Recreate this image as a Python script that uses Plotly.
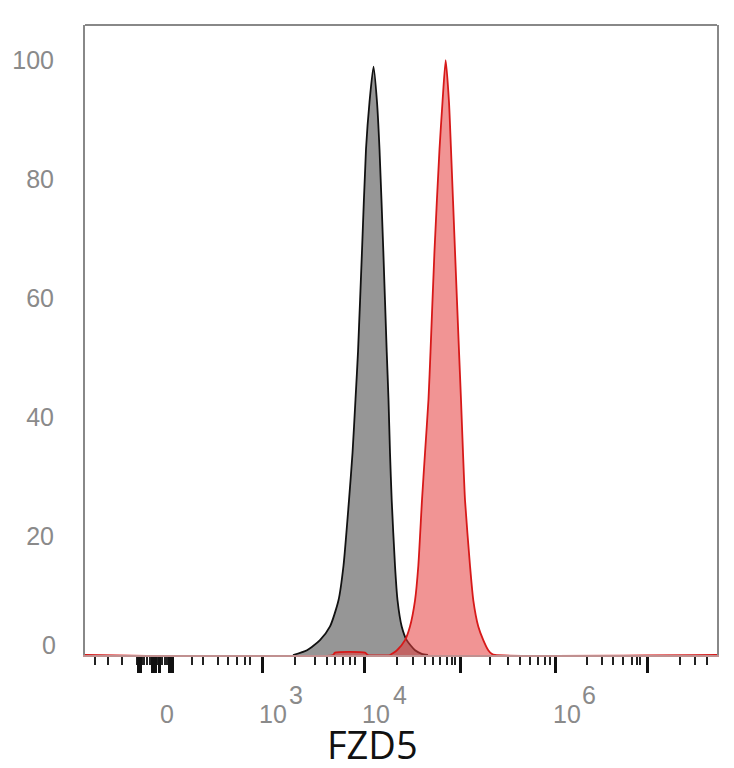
import plotly.graph_objects as go

# x is in display channels (0-1000 across the plot), y is % of max
GRAY_X = [329.1, 351.3, 371.8, 387.7, 401.1, 409.0, 417.7, 423.3, 428.0, 432.0, 438.3, 444.6, 450.2, 456.5,
          462.0, 466.0, 472.0, 477.4, 480.2, 482.6, 485.3, 490.5, 494.5, 501.1, 509.0, 522.2, 532.8, 542.7]
GRAY_Y = [0, 0.8, 2.5, 4.8, 9.2, 15.0, 26.0, 34.0, 43.0, 51.0, 68.0, 85.0, 93.0, 98.9,
          93.0, 85.0, 68.0, 51.0, 43.0, 34.0, 26.0, 15.0, 9.2, 4.8, 2.5, 0.8, 0.2, 0]

RED_X = [0, 392.4, 395.6, 443.0, 447.8,
         482.6, 485.8, 493.7, 506.3, 514.2, 522.2, 527.4, 533.2, 538.0, 543.5, 546.7, 553.0, 560.9, 565.7,
         570.7,
         575.9, 579.1, 585.4, 591.8, 594.9, 598.1, 601.3, 609.2, 614.4, 622.3, 630.2, 638.1, 643.5, 648.7,
         1000]
RED_Y = [0, 0, 0.4, 0.4, 0,
         0, 0.2, 0.8, 2.5, 4.8, 9.2, 15.0, 26.0, 34.0, 43.0, 51.0, 68.0, 85.0, 93.0,
         100,
         93.0, 85.0, 68.0, 51.0, 43.0, 34.0, 26.0, 15.0, 9.2, 4.8, 2.5, 0.8, 0.2, 0,
         0]

Y_TICKS = [20, 40, 60, 80, 100]

# decade ticks (channels)
MAJOR_TICKS = [83.9, 87.8, 106.8, 112.3, 117.9, 133.7, 138.4, 280.1, 443.0, 594.9, 743.7, 890.8]
MINOR_TICKS = [15.8, 36.4, 58.5,
               82.3, 86.2, 90.2, 94.1, 98.1, 102.1, 106.0, 110.0, 113.9, 117.9, 121.8, 125.8,
               129.7, 133.7, 137.7,
               169.3, 186.7, 210.4, 226.3, 240.5, 253.2, 261.1,
               332.3, 363.9, 382.9, 395.6, 408.2, 419.3, 427.2,
               493.7, 519.0, 538.0, 550.6, 561.7, 572.8, 580.7, 585.4,
               640.8, 669.3, 688.3, 704.1, 716.8, 727.8, 735.8,
               794.3, 818.0, 835.4, 851.3, 865.5, 873.4, 878.2,
               941.5, 965.2, 984.2]

# x axis labels: (text, channel of base, exponent, channel of exponent)
X_LABELS = [("0", 129.3, "", None), ("10", 296.7, "3", 333.9),
            ("10", 461.2, "4", 498.4), ("10", 762.7, "6", 797.5)]

fig = go.Figure()

fig.add_trace(go.Scatter(
    x=GRAY_X, y=GRAY_Y, mode="lines", fill="tozeroy",
    fillcolor="rgb(150,150,150)",
    line=dict(color="#111111", width=1.8, shape="spline", smoothing=0.6),
    hoverinfo="skip", showlegend=False
))
fig.add_trace(go.Scatter(
    x=RED_X, y=RED_Y, mode="lines", fill="tozeroy",
    fillcolor="rgba(230,60,60,0.55)",
    line=dict(color="rgb(215,25,25)", width=1.8, shape="spline", smoothing=0.6),
    hoverinfo="skip", showlegend=False
))

lab_font = dict(family="Liberation Sans, Arial, sans-serif", size=25, color="#8a8a8a")
for base, xc, exp, xe in X_LABELS:
    fig.add_annotation(x=xc, y=-0.094, xref="x", yref="paper", text=base,
                       showarrow=False, font=lab_font, xanchor="center", yanchor="middle")
    if exp:
        fig.add_annotation(x=xe, y=-0.063, xref="x", yref="paper", text=exp,
                           showarrow=False, font=lab_font, xanchor="center", yanchor="middle")

fig.add_annotation(x=0, y=1.7, xref="paper", yref="y", text="0", showarrow=False,
                   font=lab_font, xanchor="right", yanchor="middle", xshift=-27)

fig.add_annotation(x=0.455, y=-0.1405, xref="paper", yref="paper", text="FZD5",
                   showarrow=False, xanchor="center", yanchor="middle",
                   font=dict(family="Open Sans, sans-serif", size=38, color="#111111"))

# top border
fig.add_shape(type="line", xref="paper", yref="paper", x0=0, x1=1, y0=1, y1=1,
              line=dict(color="#888888", width=2))

# page body has an 8px margin, so the figure is 8px smaller on each lead edge
fig.update_layout(
    width=726, height=760,
    margin=dict(l=77, r=17, t=17, b=113, autoexpand=False),
    plot_bgcolor="white", paper_bgcolor="white",
    xaxis=dict(
        range=[0, 1000], showgrid=False, zeroline=False, automargin=False,
        showline=True, linecolor="#c09090", linewidth=1.5, mirror=False,
        tickmode="array", tickvals=MAJOR_TICKS, showticklabels=False,
        ticks="outside", ticklen=16, tickwidth=3, tickcolor="#111111",
        minor=dict(tickmode="array", tickvals=MINOR_TICKS, ticks="outside",
                   ticklen=8, tickwidth=1.5, tickcolor="#222222", showgrid=False),
    ),
    yaxis=dict(
        range=[0, 105.9], showgrid=False, zeroline=False, automargin=False,
        showline=True, linecolor="#888888", linewidth=2, mirror=True,
        tickmode="array", tickvals=Y_TICKS, ticks="",
        ticklabelstandoff=24, tickfont=lab_font,
    ),
)

fig.write_html("out.html")
